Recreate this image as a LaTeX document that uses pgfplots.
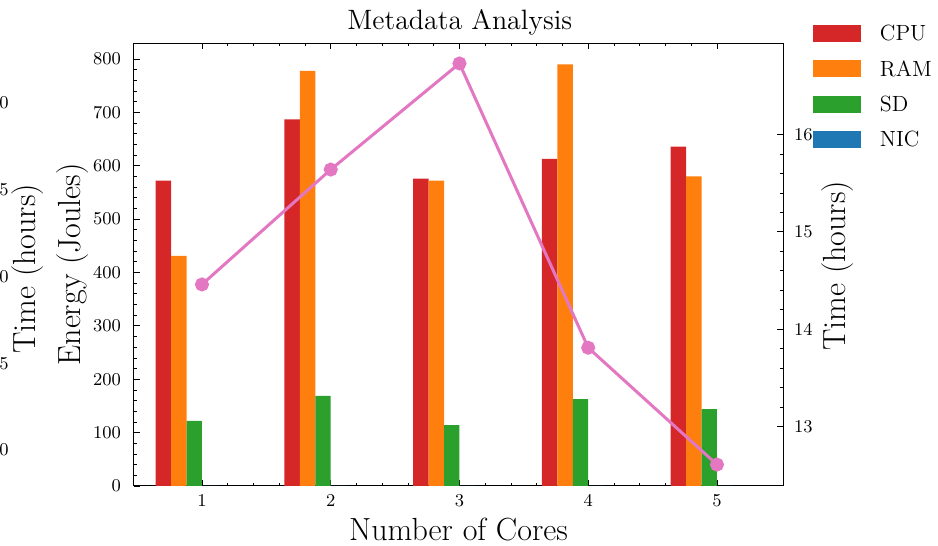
\documentclass[border=0pt]{standalone}
\usepackage{fontspec}
\usepackage{pgfplots}
\pgfplotsset{compat=1.18}

\definecolor{tabred}{HTML}{D62728}
\definecolor{taborange}{HTML}{FF7F0E}
\definecolor{tabgreen}{HTML}{2CA02C}
\definecolor{tabblue}{HTML}{1F77B4}
\definecolor{tabpink}{HTML}{E377C2}

\pgfplotsset{
  sci/.style={
    scale only axis, width=324.5pt, height=221.5pt,
    xmin=0.472, xmax=5.513,
    tick align=inside,
    major tick length=3pt, minor tick length=1.6pt,
    tick style={black, line width=0.4pt},
    axis line style={line width=0.5pt},
    tick label style={font=\fontsize{9}{10}\selectfont},
    label style={font=\fontsize{16}{18}\selectfont},
    /pgf/number format/assume math mode=true,
  },
  barleg/.style={legend image code/.code={\fill[##1] (0pt,-3.75pt) rectangle (24pt,4.75pt);}},
}

\begin{document}
\begin{tikzpicture}

% ghost twin axis cut off at the left edge
\begin{axis}[sci, at={(-402pt,0)}, anchor=south west,
  hide x axis, axis y line*=right,
  y axis line style={draw=none}, ytick style={draw=none},
  ymin=7.925, ymax=33.46, ytick={10,15,20,25,30},
  yticklabel style={xshift=2pt},
  ylabel={Time (hours)},
  ylabel style={at={(axis description cs:1.0755,0.49)}, anchor=center},
]
\addplot[draw=none] coordinates {(1,10)};
\end{axis}

% energy bars
\begin{axis}[sci, at={(0,0)}, anchor=south west,
  ymin=0, ymax=830,
  xtick={1,2,3,4,5}, minor x tick num=4, xtick pos=both, xticklabel pos=bottom,
  ytick={0,100,...,800}, minor y tick num=4, ytick pos=left,
  xticklabel style={yshift=-0.5pt},
  yticklabel style={xshift=-3pt},
  xlabel={Number of Cores},
  xlabel style={at={(axis description cs:0.5,-0.0993)}, anchor=center},
  ylabel={Energy (Joules)},
  ylabel style={at={(axis description cs:-0.0948,0.5)}, anchor=center},
  title={Metadata Analysis},
  title style={at={(axis description cs:0.502,1.020)}, anchor=center,
    font=\fontsize{14}{16}\selectfont},
  legend cell align=left,
  legend style={at={(axis description cs:1.0462,1.0406)}, anchor=north west,
    draw=none, fill=none, inner sep=0pt, outer sep=0pt,
    row sep=8.25pt, column sep=9.5pt,
    nodes={inner sep=0pt},
    font=\fontsize{11}{13}\selectfont},
]
\addplot[ybar, bar width=0.12, bar shift=-0.30, fill=tabred, draw=none, barleg]
  coordinates {(1,572) (2,687) (3,576) (4,613) (5,636)};
\addlegendentry{CPU}
\addplot[ybar, bar width=0.12, bar shift=-0.18, fill=taborange, draw=none, barleg]
  coordinates {(1,431) (2,778) (3,572) (4,790) (5,580)};
\addlegendentry{RAM}
\addplot[ybar, bar width=0.12, bar shift=-0.06, fill=tabgreen, draw=none, barleg]
  coordinates {(1,122) (2,169) (3,114) (4,163) (5,144)};
\addlegendentry{SD}
\addplot[ybar, bar width=0.12, bar shift=0.06, fill=tabblue, draw=none, barleg]
  coordinates {(1,0) (2,0) (3,0) (4,0) (5,0)};
\addlegendentry{NIC}
\end{axis}

% time line on the right axis
\begin{axis}[sci, at={(0,0)}, anchor=south west,
  hide x axis, axis y line*=right,
  ymin=12.39, ymax=16.94, ytick={13,14,15,16}, minor y tick num=4,
  yticklabel style={xshift=2pt},
  ylabel={Time (hours)},
  ylabel style={at={(axis description cs:1.084,0.497)}, anchor=center},
]
\addplot[color=tabpink, line width=1.5pt, mark=*, mark size=2.75pt,
  mark options={fill=tabpink, draw=tabpink}]
  coordinates {(1,14.46) (2,15.64) (3,16.73) (4,13.81) (5,12.61)};
\end{axis}

\pgfresetboundingbox
\path[use as bounding box] (-67pt,-30pt) rectangle (402pt,243pt);
\end{tikzpicture}
\end{document}
